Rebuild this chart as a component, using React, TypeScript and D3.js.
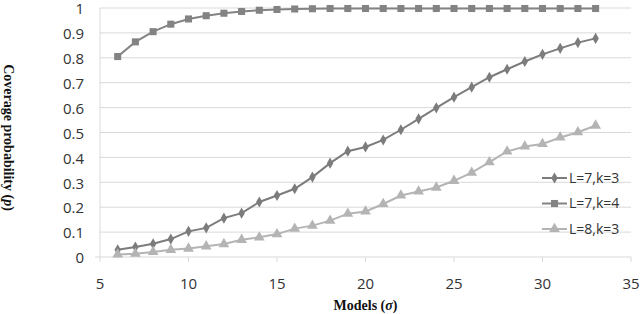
import React, { useRef, useEffect } from "react";
import * as d3 from "d3";

const models = [6, 7, 8, 9, 10, 11, 12, 13, 14, 15, 16, 17, 18, 19, 20, 21, 22, 23, 24, 25, 26, 27, 28, 29, 30, 31, 32, 33];

const l7k3 = [0.029, 0.04, 0.053, 0.072, 0.103, 0.117, 0.156, 0.176, 0.221, 0.247, 0.274, 0.321, 0.377, 0.425, 0.442, 0.47, 0.511, 0.555, 0.599, 0.642, 0.682, 0.722, 0.754, 0.785, 0.814, 0.838, 0.861, 0.878];
const l7k4 = [0.805, 0.864, 0.905, 0.935, 0.956, 0.969, 0.979, 0.986, 0.991, 0.994, 0.996, 0.997, 0.998, 0.998, 0.998, 0.998, 0.998, 0.998, 0.998, 0.998, 0.998, 0.998, 0.998, 0.998, 0.998, 0.998, 0.998, 0.998];
const l8k3 = [0.01, 0.013, 0.02, 0.029, 0.034, 0.043, 0.052, 0.069, 0.079, 0.092, 0.114, 0.126, 0.146, 0.174, 0.183, 0.213, 0.247, 0.263, 0.279, 0.306, 0.339, 0.381, 0.424, 0.444, 0.454, 0.48, 0.501, 0.528];

const xTicks = [5, 10, 15, 20, 25, 30, 35];
const yTicks = [0, 0.1, 0.2, 0.3, 0.4, 0.5, 0.6, 0.7, 0.8, 0.9, 1];

const seriesNames = ["L=7,k=3", "L=7,k=4", "L=8,k=3"];
const seriesValues = [l7k3, l7k4, l8k3];
const seriesColors = ["#7c7c7c", "#838383", "#b4b4b4"];
const seriesSymbols = [d3.symbolDiamond, d3.symbolSquare, d3.symbolTriangle];
const symbolSizes = [36, 50, 50];

const App = () => {
  const svgRef = useRef<SVGSVGElement>(null);

  useEffect(() => {
    const svg = d3.select(svgRef.current);
    svg.selectAll("*").remove();

    const width = 640;
    const height = 314;
    const margin = { top: 8, right: 9, bottom: 57, left: 100 };

    const x = d3.scaleLinear().domain([5, 35]).range([margin.left, width - margin.right]);
    const y = d3.scaleLinear().domain([0, 1]).range([height - margin.bottom, margin.top]);

    const font = "'Open Sans', 'Liberation Sans', sans-serif";

    // gridlines
    svg.append("g")
      .selectAll("line")
      .data(yTicks)
      .join("line")
      .attr("x1", (d) => (d === 0 ? margin.left - 5 : margin.left))
      .attr("x2", width - margin.right)
      .attr("y1", (d) => y(d))
      .attr("y2", (d) => y(d))
      .attr("stroke", "#d9d9d9")
      .attr("stroke-width", 1);

    // y axis line
    svg.append("line")
      .attr("x1", margin.left)
      .attr("x2", margin.left)
      .attr("y1", y(1))
      .attr("y2", y(0) + 5)
      .attr("stroke", "#d9d9d9");

    // x ticks
    svg.append("g")
      .selectAll("line")
      .data(xTicks.slice(1))
      .join("line")
      .attr("x1", (d) => x(d))
      .attr("x2", (d) => x(d))
      .attr("y1", y(0))
      .attr("y2", y(0) + 5)
      .attr("stroke", "#d9d9d9");

    svg.append("g")
      .selectAll("text")
      .data(yTicks)
      .join("text")
      .attr("x", margin.left - 16)
      .attr("y", (d) => y(d) + 1)
      .attr("dy", "0.35em")
      .attr("text-anchor", "end")
      .attr("font-family", font)
      .attr("font-size", 15)
      .attr("fill", "#333")
      .text((d) => d3.format("~g")(d));

    svg.append("g")
      .selectAll("text")
      .data(xTicks)
      .join("text")
      .attr("x", (d) => x(d))
      .attr("y", y(0) + 32)
      .attr("text-anchor", "middle")
      .attr("font-family", font)
      .attr("font-size", 15)
      .attr("fill", "#333")
      .text((d) => d);

    const line = d3
      .line<number>()
      .x((d, i) => x(models[i]))
      .y((d) => y(d));

    seriesValues.forEach((vals, k) => {
      const color = seriesColors[k];
      svg.append("path")
        .datum(vals)
        .attr("fill", "none")
        .attr("stroke", color)
        .attr("stroke-width", 2)
        .attr("d", line);

      svg.append("g")
        .selectAll("path")
        .data(vals)
        .join("path")
        .attr("transform", (d, i) => `translate(${x(models[i])},${y(d)})`)
        .attr("d", d3.symbol().type(seriesSymbols[k]).size(symbolSizes[k]))
        .attr("fill", color);
    });

    // legend
    const legend = svg.append("g").attr("transform", "translate(542,178)");
    seriesNames.forEach((name, k) => {
      const g = legend.append("g").attr("transform", `translate(0,${k * 25.5})`);
      g.append("line")
        .attr("x1", 0)
        .attr("x2", 25)
        .attr("stroke", seriesColors[k])
        .attr("stroke-width", 2);
      g.append("path")
        .attr("transform", "translate(12.5,0)")
        .attr("d", d3.symbol().type(seriesSymbols[k]).size(symbolSizes[k]))
        .attr("fill", seriesColors[k]);
      g.append("text")
        .attr("x", 27)
        .attr("dy", "0.35em")
        .attr("font-family", font)
        .attr("font-size", 14)
        .attr("fill", "#333")
        .text(name);
    });

    // axis titles
    svg.append("text")
      .attr("x", (x(5) + x(35)) / 2)
      .attr("y", 310)
      .attr("text-anchor", "middle")
      .attr("font-family", "'Liberation Serif', serif")
      .attr("font-weight", "bold")
      .attr("font-size", 14)
      .attr("fill", "#111")
      .html("Models (<tspan font-style='italic'>σ</tspan>)");

    svg.append("text")
      .attr("transform", `translate(4,${(y(0) + y(1)) / 2 + 5}) rotate(90)`)
      .attr("text-anchor", "middle")
      .attr("font-family", "'Liberation Serif', serif")
      .attr("font-weight", "bold")
      .attr("font-size", 14)
      .attr("fill", "#111")
      .html("Coverage probability (<tspan font-style='italic'>p</tspan>)");
  }, []);

  return (
    <svg
      ref={svgRef}
      width={640}
      height={314}
      style={{ position: "absolute", left: 0, top: 0, background: "#fff" }}
    ></svg>
  );
};

export default App;
